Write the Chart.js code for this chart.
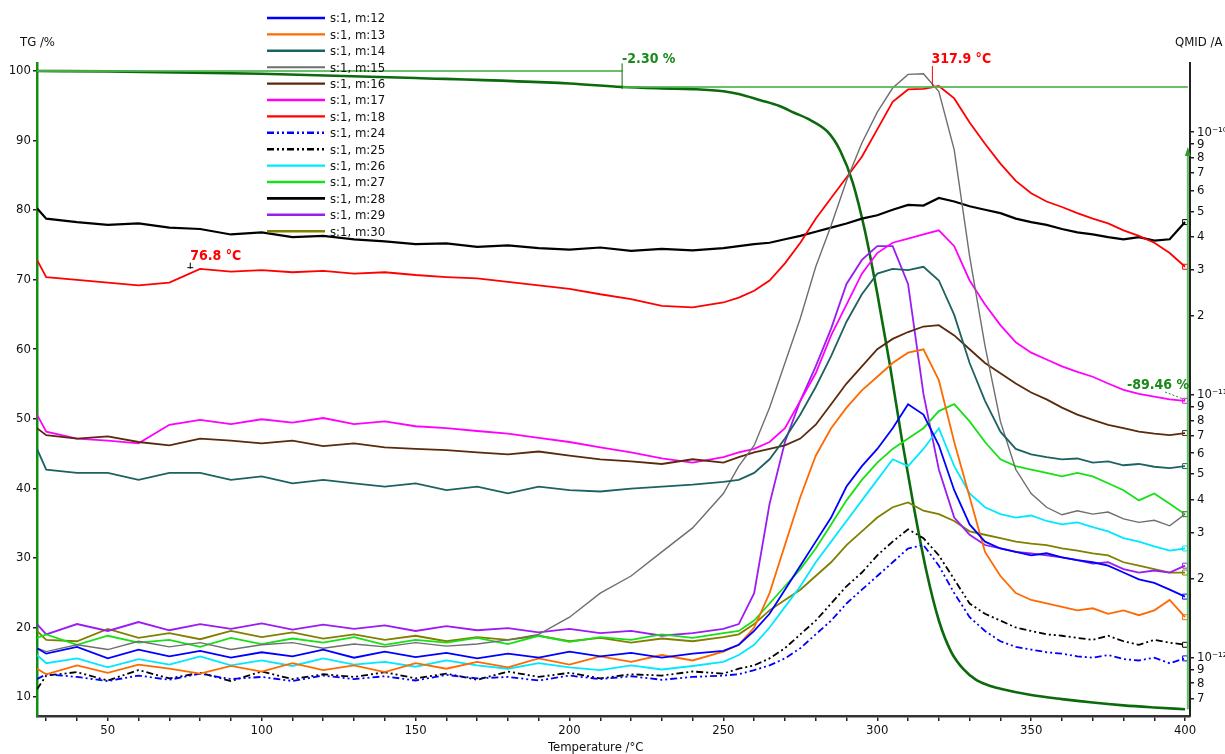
<!DOCTYPE html>
<html>
<head>
<meta charset="utf-8">
<script src="https://cdn.jsdelivr.net/npm/chart.js"></script>
<style>
  html, body { margin: 0; padding: 0; background: #fff; }
  canvas { display: block; }
</style>
</head>
<body>
<canvas id="c" width="1225" height="754"></canvas>
<script>
// ---- data ----
// temperatures (°C) shared by all MS curves
var temps = [27,30,40,50,60,70,80,90,100,110,120,130,140,150,160,170,180,190,200,210,220,230,240,250,
  255,260,265,270,275,280,285,290,295,300,305,310,315,320,325,330,335,340,345,350,355,360,365,370,375,380,385,390,395,400];

// ion currents, in units of 1e-12 A
var m12 = [1.087,1.036,1.100,0.994,1.074,1.012,1.061,1.000,1.049,1.012,1.074,1.000,1.055,1.006,1.043,0.994,1.036,1.000,1.055,1.012,1.043,1.000,1.036,1.061,
  1.120,1.264,1.469,1.815,2.240,2.765,3.414,4.48,5.36,6.23,7.47,9.22,8.42,6.43,4.34,3.215,2.765,2.604,2.527,2.452,2.497,2.408,2.350,2.308,2.240,2.109,1.986,1.927,1.815,1.708];
var m13 = [0.908,0.865,0.935,0.876,0.941,0.908,0.870,0.930,0.886,0.953,0.897,0.935,0.881,0.953,0.908,0.964,0.919,0.994,0.941,1.012,0.964,1.024,0.976,1.055,
  1.120,1.303,1.761,2.684,4.090,5.869,7.467,8.945,10.40,11.73,13.23,14.48,14.92,11.38,6.62,4.09,2.527,2.046,1.761,1.658,1.608,1.561,1.514,1.542,1.469,1.514,1.451,1.514,1.658,1.426];
var m14 = [6.23,5.20,5.05,5.05,4.75,5.05,5.05,4.75,4.90,4.61,4.75,4.61,4.48,4.61,4.34,4.48,4.22,4.48,4.34,4.29,4.40,4.48,4.56,4.67,
  4.75,5.05,5.69,6.82,8.42,10.72,14.05,18.99,24.16,28.95,30.19,29.83,30.74,27.26,20.17,13.23,9.50,7.25,6.23,5.94,5.80,5.69,5.73,5.53,5.59,5.40,5.46,5.33,5.27,5.36];
var m15 = [1.087,1.055,1.120,1.074,1.155,1.100,1.141,1.074,1.120,1.141,1.087,1.127,1.100,1.141,1.107,1.127,1.169,1.227,1.426,1.761,2.046,2.527,3.119,4.215,
  5.362,6.425,8.945,13.23,19.57,30.74,44.13,65.26,90.9,119.2,147.2,165.9,166.9,142.8,85.6,33.65,15.38,7.93,5.20,4.215,3.737,3.498,3.626,3.518,3.582,3.373,3.273,3.333,3.176,3.518];
var m16 = [7.47,7.03,6.82,6.95,6.62,6.43,6.82,6.70,6.54,6.70,6.39,6.54,6.31,6.23,6.16,6.05,5.94,6.09,5.87,5.69,5.59,5.46,5.69,5.53,
  5.80,6.05,6.23,6.43,6.82,7.70,9.22,11.05,12.84,14.92,16.34,17.35,18.21,18.43,16.84,14.92,13.23,12.09,11.05,10.21,9.62,8.95,8.42,8.03,7.70,7.47,7.25,7.12,7.03,7.16];
var m17 = [8.42,7.25,6.82,6.70,6.54,7.70,8.03,7.74,8.08,7.84,8.17,7.74,7.93,7.60,7.47,7.29,7.12,6.86,6.62,6.31,6.05,5.73,5.53,5.80,
  6.05,6.23,6.62,7.47,9.50,12.09,16.84,22.08,28.95,34.67,37.95,39.35,40.80,42.30,36.83,27.26,22.08,18.43,15.85,14.48,13.64,12.84,12.24,11.73,11.05,10.46,10.09,9.85,9.62,9.50];
var m18 = [32.65,28.09,27.42,26.77,26.13,26.77,30.19,29.47,29.83,29.30,29.65,28.95,29.30,28.60,28.09,27.75,26.93,26.13,25.35,24.16,23.17,21.82,21.55,22.48,
  23.45,24.90,27.26,31.68,37.95,46.86,56.15,67.25,80.58,102.5,130.5,145.4,146.2,149.8,134.4,108.9,90.3,75.9,65.26,58.55,54.47,51.91,49.17,46.86,44.93,42.30,40.31,37.95,34.67,30.74];
var m24 = [0.829,0.865,0.845,0.815,0.855,0.824,0.870,0.829,0.845,0.815,0.855,0.829,0.850,0.819,0.860,0.834,0.845,0.819,0.855,0.829,0.850,0.824,0.845,0.855,
  0.865,0.897,0.935,0.994,1.087,1.227,1.384,1.608,1.815,2.046,2.308,2.604,2.684,2.240,1.761,1.426,1.264,1.155,1.100,1.074,1.049,1.036,1.012,1.000,1.024,0.988,0.976,1.000,0.953,0.994];
var m25 = [0.758,0.855,0.881,0.819,0.897,0.834,0.876,0.815,0.886,0.829,0.865,0.845,0.881,0.834,0.870,0.824,0.886,0.845,0.876,0.834,0.865,0.855,0.886,0.870,
  0.908,0.935,0.994,1.087,1.227,1.384,1.608,1.870,2.109,2.452,2.765,3.082,2.850,2.452,1.986,1.608,1.469,1.384,1.303,1.264,1.227,1.212,1.190,1.169,1.212,1.155,1.120,1.169,1.141,1.120];
var m26 = [1.024,0.953,0.994,0.919,0.988,0.941,1.012,0.935,0.976,0.930,0.994,0.941,0.964,0.924,0.976,0.935,0.908,0.953,0.919,0.897,0.935,0.902,0.930,0.964,
  1.024,1.120,1.303,1.561,1.870,2.308,2.765,3.313,3.969,4.75,5.69,5.36,6.23,7.47,5.36,4.215,3.737,3.518,3.414,3.476,3.313,3.215,3.273,3.137,3.027,2.850,2.765,2.651,2.557,2.604];
var m27 = [1.190,1.227,1.120,1.212,1.141,1.169,1.100,1.190,1.127,1.183,1.141,1.197,1.120,1.169,1.141,1.190,1.127,1.212,1.148,1.197,1.169,1.227,1.190,1.241,
  1.264,1.384,1.608,1.870,2.174,2.604,3.215,3.969,4.75,5.53,6.23,6.82,7.47,8.68,9.22,7.93,6.62,5.69,5.36,5.20,5.05,4.90,5.05,4.90,4.61,4.34,3.969,4.215,3.851,3.518];
var m28 = [51.29,46.86,45.47,44.39,44.93,43.33,42.81,40.80,41.54,39.83,40.31,39.11,38.41,37.50,37.72,36.61,37.06,36.17,35.73,36.39,35.31,35.95,35.52,36.17,
  36.83,37.50,37.95,39.11,40.31,41.79,43.33,44.93,46.86,48.29,50.68,52.86,52.54,56.15,54.47,52.22,50.68,49.17,46.86,45.47,44.39,42.81,41.54,40.80,39.83,39.11,39.83,38.64,39.11,45.47];
var m29 = [1.343,1.227,1.343,1.264,1.367,1.272,1.343,1.287,1.351,1.279,1.335,1.287,1.327,1.264,1.319,1.272,1.295,1.249,1.287,1.241,1.264,1.212,1.241,1.287,
  1.343,1.761,3.851,6.620,9.502,12.84,17.88,26.45,32.65,36.83,36.83,26.45,10.09,5.204,3.414,2.937,2.684,2.604,2.527,2.497,2.452,2.408,2.350,2.280,2.308,2.174,2.109,2.147,2.109,2.240];
var m30 = [1.264,1.169,1.155,1.287,1.190,1.241,1.176,1.264,1.197,1.249,1.183,1.227,1.169,1.212,1.155,1.197,1.169,1.212,1.155,1.190,1.141,1.183,1.155,1.197,
  1.227,1.343,1.514,1.658,1.815,2.046,2.308,2.684,3.027,3.414,3.737,3.898,3.626,3.518,3.313,3.027,2.937,2.850,2.765,2.716,2.684,2.604,2.557,2.497,2.452,2.308,2.240,2.174,2.109,2.109];

// TG curve (%)
var tgTemps = [27,50,100,150,200,217,230,240,250,255,262,268,273,278,284,288,292,296,300,304,308,312,316,320,324,328,332,336,340,350,360,370,380,390,400];
var tgPct = [100,99.95,99.6,99.0,98.2,97.7,97.5,97.4,97.1,96.7,95.8,95.0,94.0,93.0,91.2,88.5,84,77,68,58,47,37,28,21,16.5,14,12.5,11.7,11.2,10.3,9.7,9.2,8.8,8.5,8.24];

// ticks
var xTicks = [30,40,50,60,70,80,90,100,110,120,130,140,150,160,170,180,190,200,210,220,230,240,250,260,270,280,290,300,310,320,330,340,350,360,370,380,390,400];
var tgTicks = [10,20,30,40,50,60,70,80,90,100];
var qTicks = [0.7,0.8,0.9,1,2,3,4,5,6,7,8,9,10,20,30,40,50,60,70,80,90,100];
var qTickLabels = ['7','8','9','10\u207B\u00B9\u00B2','2','3','4','5','6','7','8','9','10\u207B\u00B9\u00B9','2','3','4','5','6','7','8','9','10\u207B\u00B9\u2070'];

// annotations
var stepTemp = 217.1, stepFrom = 100, stepTo = 97.7, stepText = '-2.30 %';
var finalTemp = 400.9, finalTG = 8.24, finalArrowTop = 88.5, finalText = '-89.46 %';
var peakTemp = 317.9, peakText = '317.9 \u00B0C';
var shoulderTemp = 76.8, shoulderValue = 30.5, shoulderText = '76.8 \u00B0C';

var FONT = '"Liberation Sans Narrow", "Arial Narrow", "DejaVu Sans Condensed", "Liberation Sans", sans-serif';

var series = [
  { label: 's:1, m:12', values: m12, color: '#0000ff', width: 1.8 },
  { label: 's:1, m:13', values: m13, color: '#ff6a00', width: 1.8 },
  { label: 's:1, m:14', values: m14, color: '#1d6262', width: 1.8 },
  { label: 's:1, m:15', values: m15, color: '#6e6e6e', width: 1.4 },
  { label: 's:1, m:16', values: m16, color: '#5a2a0c', width: 1.8 },
  { label: 's:1, m:17', values: m17, color: '#ff00ff', width: 1.8 },
  { label: 's:1, m:18', values: m18, color: '#ff0000', width: 1.8 },
  { label: 's:1, m:24', values: m24, color: '#0000ff', width: 1.8, dash: [7,3,2,3,2,3] },
  { label: 's:1, m:25', values: m25, color: '#000000', width: 1.8, dash: [7,3,2,3,2,3] },
  { label: 's:1, m:26', values: m26, color: '#00e8ff', width: 1.8 },
  { label: 's:1, m:27', values: m27, color: '#18e018', width: 1.8 },
  { label: 's:1, m:28', values: m28, color: '#000000', width: 2.2 },
  { label: 's:1, m:29', values: m29, color: '#9a1cf2', width: 1.8 },
  { label: 's:1, m:30', values: m30, color: '#808000', width: 1.8 }
];

var lastIdx = temps.length - 1;
var datasets = series.map(function(s){
  return {
    label: s.label,
    data: temps.map(function(t, i){ return { x: t, y: s.values[i] }; }),
    borderColor: s.color, backgroundColor: s.color,
    borderWidth: s.width, borderDash: s.dash || [],
    yAxisID: 'q', fill: false, tension: 0,
    // small end-of-curve box as in the instrument plot
    pointStyle: 'rect',
    pointRadius: function(c){ return c.dataIndex === lastIdx ? 3.5 : 0; },
    pointBackgroundColor: 'rgba(255,255,255,0)',
    pointBorderColor: s.color, pointBorderWidth: 1
  };
});
datasets.push({
  label: 'TG',
  data: tgTemps.map(function(t, i){ return { x: t, y: tgPct[i] }; }),
  borderColor: '#0b6a0b', borderWidth: 2.6, yAxisID: 'y',
  pointRadius: 0, fill: false, cubicInterpolationMode: 'monotone'
});

var overlay = {
  id: 'overlay',
  afterDatasetsDraw: function(chart){
    var ctx = chart.ctx, x = chart.scales.x, y = chart.scales.y, q = chart.scales.q;
    ctx.save();
    // step lines of the TG evaluation
    ctx.strokeStyle = 'rgba(80,180,80,0.85)';
    ctx.lineWidth = 2;
    ctx.beginPath();
    ctx.moveTo(x.getPixelForValue(27), y.getPixelForValue(stepFrom));
    ctx.lineTo(x.getPixelForValue(stepTemp), y.getPixelForValue(stepFrom));
    ctx.moveTo(x.getPixelForValue(stepTemp), y.getPixelForValue(stepTo));
    ctx.lineTo(x.getPixelForValue(finalTemp), y.getPixelForValue(stepTo));
    ctx.stroke();
    ctx.strokeStyle = '#0b6a0b'; ctx.lineWidth = 1;
    ctx.beginPath();
    ctx.moveTo(x.getPixelForValue(stepTemp), y.getPixelForValue(101.1));
    ctx.lineTo(x.getPixelForValue(stepTemp), y.getPixelForValue(stepTo - 0.3));
    ctx.stroke();
    // final mass-loss arrow
    var ax = x.getPixelForValue(finalTemp);
    var aTop = y.getPixelForValue(finalArrowTop);
    ctx.strokeStyle = 'rgba(80,180,80,0.9)'; ctx.lineWidth = 2;
    ctx.beginPath();
    ctx.moveTo(ax, y.getPixelForValue(finalTG));
    ctx.lineTo(ax, aTop);
    ctx.stroke();
    ctx.fillStyle = '#2a9a2a';
    ctx.beginPath();
    ctx.moveTo(ax, aTop - 4); ctx.lineTo(ax - 3, aTop + 5); ctx.lineTo(ax + 3, aTop + 5);
    ctx.closePath(); ctx.fill();
    // peak marker
    var px = x.getPixelForValue(peakTemp);
    ctx.strokeStyle = '#ff0000'; ctx.lineWidth = 1;
    ctx.beginPath();
    ctx.moveTo(px, y.getPixelForValue(100.7));
    ctx.lineTo(px, q.getPixelForValue(149.8));
    ctx.stroke();
    // shoulder marker
    var sx = x.getPixelForValue(shoulderTemp), sy = q.getPixelForValue(shoulderValue);
    ctx.strokeStyle = '#000'; ctx.lineWidth = 1;
    ctx.beginPath();
    ctx.moveTo(sx, sy - 5); ctx.lineTo(sx, sy + 1);
    ctx.moveTo(sx - 3, sy); ctx.lineTo(sx + 3, sy);
    ctx.stroke();

    ctx.font = 'bold 14px ' + FONT;
    ctx.textBaseline = 'alphabetic';
    ctx.fillStyle = '#1a8a1a';
    ctx.fillText(stepText, x.getPixelForValue(stepTemp), 63);
    ctx.fillText(finalText, 1127, 389);
    ctx.strokeStyle = '#1a8a1a'; ctx.setLineDash([2,2]);
    ctx.beginPath(); ctx.moveTo(1165, 392); ctx.lineTo(ax - 2, 400); ctx.stroke();
    ctx.setLineDash([]);
    ctx.fillStyle = '#ff0000';
    ctx.fillText(peakText, px - 1, 63);
    ctx.fillText(shoulderText, sx, sy - 8);
    ctx.restore();
  },
  afterDraw: function(chart){
    var ctx = chart.ctx;
    ctx.save();
    // legend
    var lx = 267, ly = 18, step = 16.4;
    ctx.font = '13px ' + FONT;
    ctx.textBaseline = 'middle';
    chart.data.datasets.forEach(function(ds, i){
      if (ds.label === 'TG') return;
      var yy = ly + i * step;
      ctx.strokeStyle = ds.borderColor;
      ctx.lineWidth = ds.borderWidth + 0.6;
      ctx.setLineDash(ds.borderDash || []);
      ctx.beginPath(); ctx.moveTo(lx, yy); ctx.lineTo(lx + 58, yy); ctx.stroke();
      ctx.setLineDash([]);
      ctx.fillStyle = '#111';
      ctx.fillText(ds.label, lx + 63, yy + 1);
    });
    // axis titles
    ctx.textBaseline = 'alphabetic';
    ctx.fillStyle = '#111';
    ctx.font = '13px ' + FONT;
    ctx.fillText('TG /%', 20, 46);
    ctx.fillText('QMID /A', 1175, 46);
    ctx.fillText('Temperature /\u00B0C', 548, 751);
    ctx.restore();
  }
};

var tickFont = { family: FONT, size: 13 };

new Chart(document.getElementById('c').getContext('2d'), {
  type: 'line',
  data: { datasets: datasets },
  plugins: [overlay],
  options: {
    responsive: false, animation: false, devicePixelRatio: 1,
    layout: { padding: { top: 63, left: 0, right: 0, bottom: 0 } },
    plugins: { legend: { display: false }, tooltip: { enabled: false } },
    scales: {
      x: {
        type: 'linear', min: 27, max: 401.6,
        afterBuildTicks: function(s){ s.ticks = xTicks.map(function(v){ return { value: v }; }); },
        afterFit: function(s){ s.height = 38; },
        ticks: { autoSkip: false, maxRotation: 0, padding: 2, color: '#111', font: tickFont,
          callback: function(v){ return v % 50 === 0 ? String(v) : ''; } },
        grid: { display: true, drawOnChartArea: false, drawTicks: true, tickLength: 5, color: '#222', lineWidth: 1.5 },
        border: { display: true, color: '#333', width: 2.5 }
      },
      y: {
        type: 'linear', position: 'left', min: 7.27, max: 101.15,
        afterBuildTicks: function(s){ s.ticks = tgTicks.map(function(v){ return { value: v }; }); },
        afterFit: function(s){ s.width = 37; },
        ticks: { autoSkip: false, padding: 2, color: '#111', font: tickFont },
        grid: { display: true, drawOnChartArea: false, drawTicks: true, tickLength: 4, color: '#222', lineWidth: 1.5 },
        border: { display: true, color: '#109010', width: 2.5 }
      },
      q: {
        type: 'logarithmic', position: 'right', min: 0.643, max: 183.3,
        afterBuildTicks: function(s){ s.ticks = qTicks.map(function(v){ return { value: v }; }); },
        afterFit: function(s){ s.width = 35; },
        ticks: { autoSkip: false, padding: 3, color: '#111', font: tickFont,
          callback: function(v, i){ return qTickLabels[i]; } },
        grid: { display: true, drawOnChartArea: false, drawTicks: true, tickLength: 4, color: '#222', lineWidth: 1.5 },
        border: { display: true, color: '#222', width: 2 }
      }
    }
  }
});
</script>
</body>
</html>
